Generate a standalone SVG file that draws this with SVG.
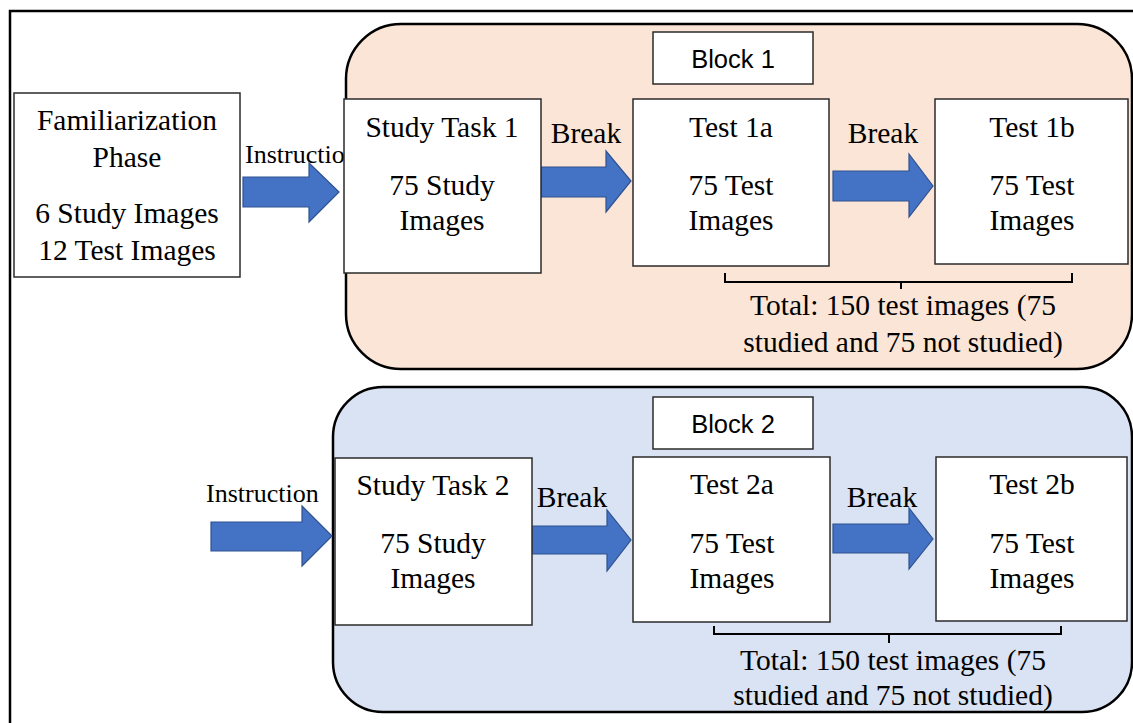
<svg xmlns="http://www.w3.org/2000/svg" width="1133" height="723" viewBox="0 0 1133 723">
  <style>
    .frame { fill: none; stroke: #000; stroke-width: 2.5; }
    .block { stroke: #000; stroke-width: 2.5; }
    .box { fill: #fff; stroke: #2b2b2b; stroke-width: 1.5; }
    .arrow { fill: #4472C4; stroke: #2F528F; stroke-width: 1.2; }
    .brace { fill: none; stroke: #000; stroke-width: 2; }
    .serif { font-family: "Liberation Serif", "Times New Roman", serif; font-size: 29.5px; fill: #000; }
    .small { font-size: 26px; }
    .sans { font-family: "Liberation Sans", Arial, sans-serif; font-size: 25.5px; fill: #000; }
    .mid { text-anchor: middle; }
  </style>

  <!-- page frame (top and left edges) -->
  <path class="frame" d="M10,723 V11 H1133"/>

  <!-- block backgrounds -->
  <g id="block1">
    <rect class="block" x="346" y="24" width="786" height="345" rx="55" ry="55" fill="#FBE5D6"/>
    <rect class="box" x="653" y="32" width="160" height="52"/>
    <text class="sans mid" x="733" y="68">Block 1</text>
  </g>
  <g id="block2">
    <rect class="block" x="333" y="387" width="799" height="325" rx="50" ry="50" fill="#DAE3F3"/>
    <rect class="box" x="653" y="397" width="160" height="52"/>
    <text class="sans mid" x="733" y="433">Block 2</text>
  </g>

  <!-- connectors -->
  <g id="connectors">
    <text class="serif small" x="245" y="163">Instruction</text>
    <polygon class="arrow" points="243,177 309,177 309,163 339,192 309,222 309,207 243,207"/>
    <text class="serif mid" x="586" y="143">Break</text>
    <polygon class="arrow" points="541,167 606,167 606,151 631,181 606,212 606,197 541,197"/>
    <text class="serif mid" x="883" y="143">Break</text>
    <polygon class="arrow" points="833,171 909,171 909,154 933,186 909,217 909,201 833,201"/>

    <text class="serif small" x="206" y="502">Instruction</text>
    <polygon class="arrow" points="211,522 302,522 302,506 332,536 302,566 302,551 211,551"/>
    <text class="serif mid" x="572" y="507">Break</text>
    <polygon class="arrow" points="532,526 607,526 607,510 631,540 607,571 607,554 532,554"/>
    <text class="serif mid" x="882" y="507">Break</text>
    <polygon class="arrow" points="833,524 909,524 909,508 933,539 909,569 909,553 833,553"/>

    <!-- test totals braces -->
    <path class="brace" d="M725,273 V282 H1072 V273 M901,282 V289"/>
    <path class="brace" d="M714,626 V634 H1061 V626 M889,634 V643"/>
  </g>

  <!-- nodes -->
  <g id="familiarization">
    <rect class="box" x="14" y="93" width="226" height="184"/>
    <text class="serif mid" x="127" y="130">Familiarization</text>
    <text class="serif mid" x="127" y="167">Phase</text>
    <text class="serif mid" x="127" y="223">6 Study Images</text>
    <text class="serif mid" x="127" y="260">12 Test Images</text>
  </g>

  <g id="study1">
    <rect class="box" x="344" y="99" width="197" height="174"/>
    <text class="serif mid" x="442" y="137">Study Task 1</text>
    <text class="serif mid" x="442" y="195">75 Study</text>
    <text class="serif mid" x="442" y="230">Images</text>
  </g>
  <g id="test1a">
    <rect class="box" x="633" y="99" width="196" height="167"/>
    <text class="serif mid" x="731" y="137">Test 1a</text>
    <text class="serif mid" x="731" y="195">75 Test</text>
    <text class="serif mid" x="731" y="230">Images</text>
  </g>
  <g id="test1b">
    <rect class="box" x="935" y="99" width="193" height="165"/>
    <text class="serif mid" x="1032" y="137">Test 1b</text>
    <text class="serif mid" x="1032" y="195">75 Test</text>
    <text class="serif mid" x="1032" y="230">Images</text>
  </g>
  <g id="total1">
    <text class="serif mid" x="903" y="315">Total: 150 test images (75</text>
    <text class="serif mid" x="903" y="352">studied and 75 not studied)</text>
  </g>

  <g id="study2">
    <rect class="box" x="335" y="458" width="197" height="167"/>
    <text class="serif mid" x="433" y="495">Study Task 2</text>
    <text class="serif mid" x="433" y="553">75 Study</text>
    <text class="serif mid" x="433" y="588">Images</text>
  </g>
  <g id="test2a">
    <rect class="box" x="633" y="457" width="197" height="165"/>
    <text class="serif mid" x="732" y="494">Test 2a</text>
    <text class="serif mid" x="732" y="553">75 Test</text>
    <text class="serif mid" x="732" y="588">Images</text>
  </g>
  <g id="test2b">
    <rect class="box" x="936" y="457" width="191" height="164"/>
    <text class="serif mid" x="1032" y="494">Test 2b</text>
    <text class="serif mid" x="1032" y="553">75 Test</text>
    <text class="serif mid" x="1032" y="588">Images</text>
  </g>
  <g id="total2">
    <text class="serif mid" x="893" y="670">Total: 150 test images (75</text>
    <text class="serif mid" x="893" y="705">studied and 75 not studied)</text>
  </g>
</svg>
